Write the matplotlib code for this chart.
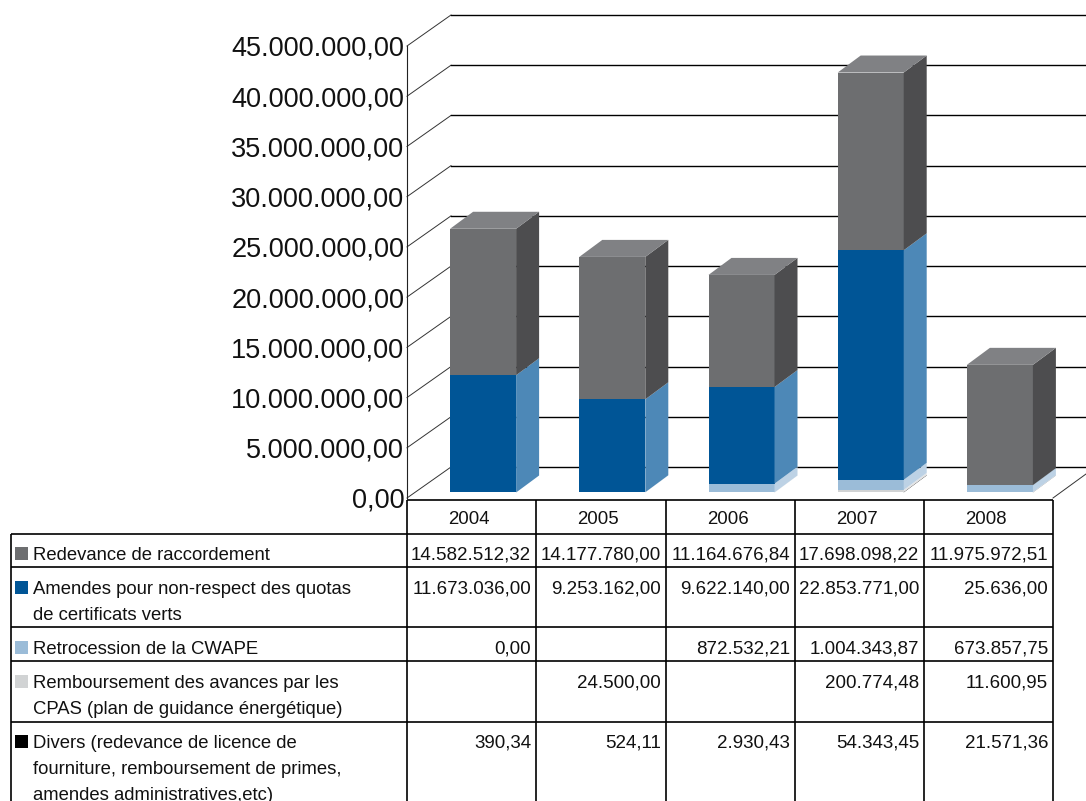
import matplotlib
matplotlib.use("Agg")
import matplotlib.pyplot as plt
import numpy as np
from matplotlib.patches import Polygon, Rectangle

plt.rcParams["font.family"] = ["Liberation Sans", "DejaVu Sans"]

W, H = 1086, 801
nan = float("nan")

years = ["2004", "2005", "2006", "2007", "2008"]
redevance = [14582512.32, 14177780.00, 11164676.84, 17698098.22, 11975972.51]
amendes = [11673036.00, 9253162.00, 9622140.00, 22853771.00, 25636.00]
retrocession = [0.00, nan, 872532.21, 1004343.87, 673857.75]
remboursement = [nan, 24500.00, nan, 200774.48, 11600.95]
divers = [390.34, 524.11, 2930.43, 54343.45, 21571.36]
y_ticks = [0, 5e6, 10e6, 15e6, 20e6, 25e6, 30e6, 35e6, 40e6, 45e6]

labels = [
    "Redevance de raccordement",
    "Amendes pour non-respect des quotas\nde certificats verts",
    "Retrocession de la CWAPE",
    "Remboursement des avances par les\nCPAS (plan de guidance énergétique)",
    "Divers (redevance de licence de\nfourniture, remboursement de primes,\namendes administratives,etc)",
]
rows = [redevance, amendes, retrocession, remboursement, divers]
# front, side, top
colors = [
    ("#6d6e70", "#4d4d4f", "#808184"),
    ("#005596", "#4d88b7", "#4d88b7"),
    ("#9bbcd8", "#bdd2e5", "#bdd2e5"),
    ("#d1d3d4", "#e3e4e5", "#e3e4e5"),
    ("#000000", "#333333", "#333333"),
]


def euro(v):
    if np.isnan(v):
        return ""
    return f"{v:,.2f}".replace(",", " ").replace(".", ",").replace(" ", ".")


fig = plt.figure(figsize=(W / 100, H / 100), dpi=100)

# ── Chart axes: x in categories, y in euros, placed on the front plane ──
X0, X1, Y0, Y45 = 407, 1053, 498, 46
ax = fig.add_axes([X0 / W, 1 - Y0 / H, (X1 - X0) / W, (Y0 - Y45) / H])
ax.set_xlim(-0.5, 4.5)
ax.set_ylim(0, 45e6)
ax.patch.set_visible(False)
for s in ["top", "right", "bottom"]:
    ax.spines[s].set_visible(False)
ax.spines["left"].set_linewidth(0.8)
ax.spines["left"].set_color("#222222")
ax.set_xticks([])
ax.set_yticks(y_ticks)
ax.set_yticklabels([euro(v) for v in y_ticks], fontsize=19.5, color="#111111")
ax.tick_params(axis="y", length=0, pad=2)

ux = (X1 - X0) / 5  # px per category
uy = (Y0 - Y45) / 45e6  # px per euro

# wall and back grid
wall_dx, wall_dy = 44 / ux, 31 / uy
for v in y_ticks:
    ax.plot([-0.5, -0.5 + wall_dx], [v, v + wall_dy], color="#333333", lw=0.7, clip_on=False, zorder=1)
    ax.plot([-0.5 + wall_dx, 4.5 + 33 / ux], [v + wall_dy, v + wall_dy], color="black", lw=1.0, clip_on=False, zorder=1)
ax.plot([4.5, 4.5 + 33 / ux], [0, 24 / uy], color="#333333", lw=0.7, clip_on=False, zorder=1)

# stacked pseudo-3D bars
bar_w = 66 / ux
shift_x = 11.5 / ux
base = 5.5 / uy
dx, dy = 23 / ux, 17 / uy
stack = [divers, remboursement, retrocession, amendes, redevance]
stack_colors = colors[::-1]
for i in range(len(years)):
    left = i - 0.5 * bar_w + shift_x
    right = left + bar_w
    bottom = base
    for series, (front, side, top) in zip(stack, stack_colors):
        v = series[i]
        if np.isnan(v) or v == 0:
            continue
        t = bottom + v
        ax.add_patch(Rectangle((left, bottom), bar_w, v, fc=front, ec="none", zorder=3, clip_on=False))
        ax.add_patch(Polygon([(right, bottom), (right + dx, bottom + dy), (right + dx, t + dy), (right, t)],
                             fc=side, ec="none", zorder=3, clip_on=False))
        bottom = t
    ax.add_patch(Polygon([(left, bottom), (left + dx, bottom + dy), (right + dx, bottom + dy), (right, bottom)],
                         fc=stack_colors[-1][2], ec="none", zorder=3, clip_on=False))

# ── Data table, in pixel coordinates ─────────────────────────────────────
tb = fig.add_axes([0, 0, 1, 1])
tb.set_xlim(0, W)
tb.set_ylim(H, 0)
tb.axis("off")

col_x = [407, 536, 666, 795, 924, 1053]
row_y = [534, 567, 627, 661, 722]
swatch_y = [547, 581, 641, 675, 735]
value_y = [555, 589, 649, 683, 743]
label_y = [556, 590, 650, 684, 744]
line = dict(color="black", lw=1.2, solid_capstyle="butt")

tb.plot([col_x[0], col_x[-1]], [500, 500], **line)
for y in row_y:
    tb.plot([11, col_x[-1]], [y, y], **line)
for x in col_x:
    tb.plot([x, x], [500, H], **line)
tb.plot([11, 11], [534, H], **line)

for i, yr in enumerate(years):
    tb.text((col_x[i] + col_x[i + 1]) / 2 - 3, 520, yr, ha="center", va="center", fontsize=13.4, color="#111111")

for r, (lab, vals) in enumerate(zip(labels, rows)):
    tb.add_patch(Rectangle((15, swatch_y[r]), 13, 13, fc=colors[r][0], ec="none"))
    for k, part in enumerate(lab.split("\n")):
        tb.text(33, label_y[r] + 26 * k, part, ha="left", va="center", fontsize=13.35, color="#111111", clip_on=True)
    for i, v in enumerate(vals):
        tb.text(col_x[i + 1] - 5, value_y[r], euro(v), ha="right", va="center", fontsize=13.5, color="#111111")

fig.savefig("out.png", dpi=100)
